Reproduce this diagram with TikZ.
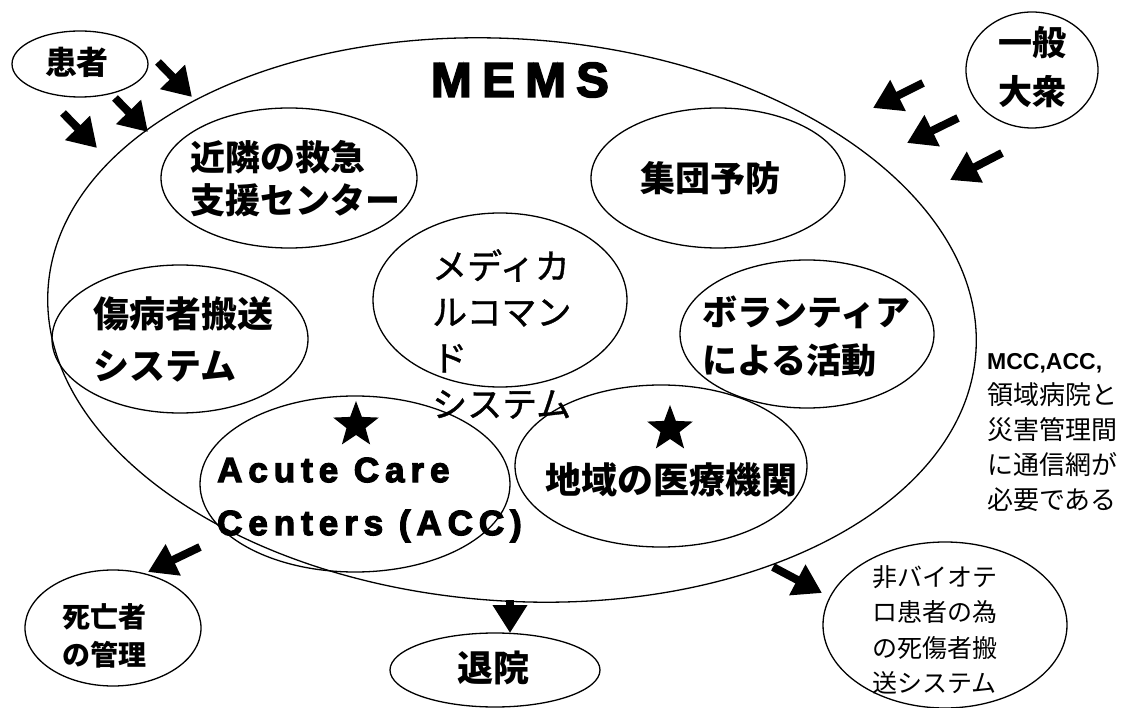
\documentclass[tikz,border=0pt]{standalone}
\usepackage{fontspec}
\usetikzlibrary{shapes.geometric,arrows.meta}
\newfontfamily\jp{Noto Sans CJK JP}
\newfontfamily\jpm[FakeBold=1]{Noto Sans CJK JP}
\newfontfamily\heavyA[LetterSpace=17,FakeBold=3.5]{Liberation Sans}
\newfontfamily\heavyM[LetterSpace=21,FakeBold=3.5]{Liberation Sans}
\newfontfamily\arialb{Liberation Sans}
\begin{document}
\begin{tikzpicture}[x=1pt,y=-1pt,
  oval/.style={draw, ellipse, line width=1.3pt, inner sep=0pt},
  bigarrow/.style={line width=8pt, -{Triangle[length=28pt,width=33pt]}},
  jbold/.style={inner sep=0pt, align=left, font=\jp\bfseries\fontsize{#1}{#1}\selectfont},
  jtext/.style={inner sep=0pt, align=left, font=\jp\fontsize{#1}{#1}\selectfont},
  starmark/.style={star, star points=5, star point ratio=2.4, fill=black, inner sep=0pt, minimum size=48pt}
]
\useasboundingbox[fill=white] (0,0) rectangle (1125,708);

% ellipses
\node[oval, minimum width=930pt, minimum height=562pt, rotate=-4] (mems) at (512,320) {};
\node[oval, minimum width=136pt, minimum height=66pt] (kanja) at (80,64) {};
\node[oval, minimum width=132pt, minimum height=116pt] (ippan) at (1032,70) {};
\node[oval, minimum width=256pt, minimum height=140pt] (kinrin) at (289,178) {};
\node[oval, minimum width=254pt, minimum height=140pt] (shudan) at (718,178) {};
\node[oval, minimum width=254pt, minimum height=174pt] (medical) at (500,300) {};
\node[oval, minimum width=256pt, minimum height=148pt] (shobyo) at (180,339) {};
\node[oval, minimum width=254pt, minimum height=148pt] (volunteer) at (807,334) {};
\node[oval, minimum width=310pt, minimum height=176pt] (acute) at (355,484) {};
\node[oval, minimum width=292pt, minimum height=162pt] (chiiki) at (661,466) {};
\node[oval, minimum width=176pt, minimum height=116pt] (shibo) at (113,628) {};
\node[oval, minimum width=210pt, minimum height=74pt] (taiin) at (495,670) {};
\node[oval, minimum width=244pt, minimum height=166pt] (hibio) at (945,625) {};

% texts
\node[inner sep=0pt, font=\heavyM\bfseries\fontsize{49}{49}\selectfont] (memstxt) at (520,80) {MEMS};
\node[jbold=32] (kanjatxt) at (77,62) {患者};
\node[jbold=34, align=center, font=\jp\bfseries\fontsize{34}{49}\selectfont] (ippantxt) at (1032,67) {一般\\大衆};
\node[jbold=35, anchor=west, font=\jp\bfseries\fontsize{35}{43}\selectfont] (kinrintxt) at (190,179) {近隣の救急\\支援センター};
\node[jbold=35] (shudantxt) at (710,178) {集団予防};
\node[anchor=west, inner sep=0pt, align=left, font=\jpm\fontsize{35}{46}\selectfont] (medtxt) at (432,334) {メディカ\\ルコマン\\ド\\システム};
\node[jbold=36, anchor=west, font=\jp\bfseries\fontsize{36}{52}\selectfont] (shobyotxt) at (93,339) {傷病者搬送\\システム};
\node[jbold=35, anchor=west, font=\jp\bfseries\fontsize{35}{48}\selectfont] (voltxt) at (702,336) {ボランティア\\による活動};
\node[anchor=west, inner sep=0pt, align=left, font=\heavyA\bfseries\fontsize{35}{53}\selectfont] (acutetxt) at (217,500) {Acute Care\\Centers (ACC)};
\node[jbold=36] (chiikitxt) at (671,480) {地域の医療機関};
\node[jbold=28, anchor=west, font=\jp\bfseries\fontsize{28}{38}\selectfont] (shibotxt) at (62,636) {死亡者\\の管理};
\node[jbold=36] (taiintxt) at (493,668) {退院};
\node[jtext=25, anchor=west, font=\jp\fontsize{25}{35.3}\selectfont] (hibiotxt) at (872,630) {非バイオテ\\ロ患者の為\\の死傷者搬\\送システム};
\node[jtext=26, anchor=west, font=\jp\fontsize{26}{35}\selectfont] (notetxt) at (987,433) {{\arialb\bfseries\fontsize{23}{35}\selectfont MCC,ACC,}\\領域病院と\\災害管理間\\に通信網が\\必要である};

% stars
\node[starmark] (star1) at (356,425) {};
\node[starmark] (star2) at (670,429) {};

% arrow coordinates
\coordinate (a1s) at (158,62);  \coordinate (a1e) at (192,97);
\coordinate (a2s) at (115,98);  \coordinate (a2e) at (148,132);
\coordinate (a3s) at (63,113);  \coordinate (a3e) at (97,148);
\coordinate (b1s) at (923,83);  \coordinate (b1e) at (873,108);
\coordinate (b2s) at (958,118); \coordinate (b2e) at (907,143);
\coordinate (b3s) at (1002,153);\coordinate (b3e) at (950,180);
\coordinate (cs) at (200,547);  \coordinate (ce) at (148,572);
\coordinate (ds) at (510,600);  \coordinate (de) at (510,633);
\coordinate (es) at (773,567);  \coordinate (ee) at (822,593);

\draw[bigarrow] (a1s) -- (a1e);
\draw[bigarrow] (a2s) -- (a2e);
\draw[bigarrow] (a3s) -- (a3e);
\draw[bigarrow] (b1s) -- (b1e);
\draw[bigarrow] (b2s) -- (b2e);
\draw[bigarrow] (b3s) -- (b3e);
\draw[bigarrow] (cs) -- (ce);
\draw[bigarrow] (ds) -- (de);
\draw[bigarrow] (es) -- (ee);
\end{tikzpicture}
\end{document}
